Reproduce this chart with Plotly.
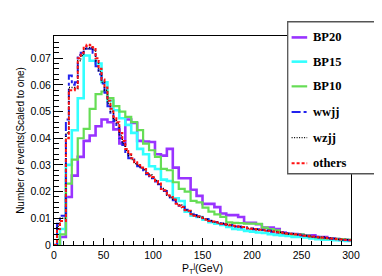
import numpy as np
import plotly.graph_objects as go

# ---------------- data ----------------
x_min, x_max = 0, 300
sig_bin_width = 6
bkg_bin_width = 3

bp20 = [0.000, 0.003, 0.018, 0.026, 0.033, 0.039, 0.041, 0.0445, 0.047, 0.046,
        0.0433, 0.038, 0.047, 0.0457, 0.039, 0.0388, 0.0386, 0.034, 0.0335, 0.036,
        0.029, 0.025, 0.025, 0.0207, 0.0184, 0.0154, 0.0154, 0.0142, 0.0118, 0.0112,
        0.0112, 0.0105, 0.0083, 0.0083, 0.0078, 0.0065, 0.0065, 0.0060, 0.0047, 0.0041,
        0.0041, 0.0038, 0.0036, 0.0036, 0.0030, 0.0030, 0.0025, 0.0022, 0.0020, 0.0018]

bp15 = [0.000, 0.006, 0.030, 0.043, 0.055, 0.071, 0.069, 0.068, 0.061, 0.054,
        0.0505, 0.0475, 0.045, 0.042, 0.036, 0.034, 0.0295, 0.0285, 0.0245, 0.024,
        0.0175, 0.0165, 0.0125, 0.011, 0.0105, 0.0095, 0.0085, 0.008, 0.0075, 0.0068,
        0.0060, 0.0058, 0.0053, 0.0050, 0.0047, 0.0045, 0.0040, 0.0038, 0.0036, 0.0034,
        0.0030, 0.0030, 0.0028, 0.0025, 0.0022, 0.0020, 0.0020, 0.0018, 0.0017, 0.0015]

bp10 = [0.000, 0.004, 0.023, 0.032, 0.040, 0.0435, 0.051, 0.0565, 0.0575, 0.055,
        0.052, 0.050, 0.048, 0.046, 0.043, 0.038, 0.0355, 0.033, 0.0285, 0.028,
        0.0235, 0.021, 0.020, 0.0165, 0.016, 0.014, 0.0125, 0.0115, 0.0105, 0.0085,
        0.0083, 0.0082, 0.0080, 0.0080, 0.0079, 0.0065, 0.0060, 0.0055, 0.0045, 0.0042,
        0.0040, 0.0040, 0.0035, 0.0030, 0.0028, 0.0025, 0.0025, 0.0023, 0.0022, 0.0020]

others = [0.000, 0.006, 0.009, 0.009, 0.040, 0.058, 0.058, 0.059, 0.070, 0.072,
          0.0745, 0.075, 0.0748, 0.074, 0.070, 0.066, 0.062, 0.059, 0.054, 0.051,
          0.048, 0.046, 0.042, 0.039, 0.036, 0.034, 0.0325, 0.031, 0.030, 0.029,
          0.0285, 0.027, 0.026, 0.0255, 0.024, 0.023, 0.021, 0.0205, 0.0185, 0.018,
          0.017, 0.0155, 0.0148, 0.0142, 0.013, 0.0128, 0.0115, 0.011, 0.0107, 0.0103,
          0.0101, 0.0095, 0.009, 0.0088, 0.0085, 0.0083, 0.008, 0.0078, 0.0076, 0.0074,
          0.0072, 0.0070, 0.0068, 0.0067, 0.0065, 0.0063, 0.0061, 0.0060, 0.0058, 0.0057,
          0.0055, 0.0054, 0.0053, 0.0051, 0.0050, 0.0048, 0.0047, 0.0045, 0.0043, 0.0042,
          0.0041, 0.0040, 0.0038, 0.0037, 0.0035, 0.0034, 0.0033, 0.0032, 0.0030, 0.0029,
          0.0028, 0.0027, 0.0025, 0.0024, 0.0023, 0.0022, 0.0021, 0.0020, 0.0019, 0.0018]

wwjj = [0.000, 0.008, 0.011, 0.011, 0.047, 0.0635, 0.060, 0.061, 0.0712, 0.072,
        0.0735, 0.074, 0.0735, 0.072, 0.067, 0.064, 0.0605, 0.057, 0.052, 0.049,
        0.0465, 0.044, 0.040, 0.0375, 0.034, 0.0325, 0.032, 0.0305, 0.0295, 0.0285,
        0.028, 0.0265, 0.0258, 0.025, 0.0238, 0.0228, 0.0212, 0.0202, 0.0188, 0.0178,
        0.0168, 0.0157, 0.0147, 0.0143, 0.0132, 0.0126, 0.0117, 0.0112, 0.0108, 0.0104,
        0.0100, 0.0097, 0.0091, 0.0089, 0.0086, 0.0082, 0.0081, 0.0079, 0.0075, 0.0075,
        0.0073, 0.0069, 0.0069, 0.0066, 0.0066, 0.0062, 0.0062, 0.0059, 0.0059, 0.0056,
        0.0056, 0.0053, 0.0054, 0.0050, 0.0051, 0.0047, 0.0048, 0.0044, 0.0044, 0.0041,
        0.0042, 0.0039, 0.0039, 0.0036, 0.0036, 0.0033, 0.0034, 0.0031, 0.0031, 0.0028,
        0.0029, 0.0026, 0.0026, 0.0023, 0.0024, 0.0021, 0.0022, 0.0019, 0.0020, 0.0018]

wzjj = [0.000, 0.007, 0.010, 0.010, 0.042, 0.059, 0.059, 0.0585, 0.069, 0.071,
        0.0735, 0.0735, 0.074, 0.073, 0.069, 0.065, 0.061, 0.058, 0.053, 0.050,
        0.047, 0.0455, 0.041, 0.038, 0.0355, 0.0335, 0.032, 0.0305, 0.0298, 0.0288,
        0.0282, 0.0268, 0.0262, 0.0252, 0.0242, 0.0228, 0.0212, 0.0203, 0.0187, 0.0178,
        0.0171, 0.0153, 0.0150, 0.0140, 0.0131, 0.0127, 0.0116, 0.0111, 0.0106, 0.0104,
        0.0100, 0.0096, 0.0091, 0.0087, 0.0086, 0.0082, 0.0081, 0.0077, 0.0077, 0.0073,
        0.0073, 0.0069, 0.0069, 0.0066, 0.0066, 0.0062, 0.0062, 0.0059, 0.0059, 0.0056,
        0.0056, 0.0053, 0.0054, 0.0050, 0.0051, 0.0047, 0.0048, 0.0044, 0.0044, 0.0041,
        0.0042, 0.0039, 0.0039, 0.0036, 0.0036, 0.0033, 0.0034, 0.0031, 0.0031, 0.0028,
        0.0029, 0.0026, 0.0026, 0.0023, 0.0024, 0.0021, 0.0022, 0.0019, 0.0020, 0.0018]

x_tick_vals = [0, 50, 100, 150, 200, 250, 300]
y_tick_vals = [0, 0.01, 0.02, 0.03, 0.04, 0.05, 0.06, 0.07]
y_top = 0.0783

series = [
    ("BP20", bp20, sig_bin_width, dict(color="#9933ff", width=2.6, dash="solid")),
    ("BP15", bp15, sig_bin_width, dict(color="#33ffff", width=2.6, dash="solid")),
    ("BP10", bp10, sig_bin_width, dict(color="#66dd55", width=2.2, dash="solid")),
    ("wwjj", wwjj, bkg_bin_width, dict(color="#2222ee", width=2.0, dash="dashdot")),
    ("wzjj", wzjj, bkg_bin_width, dict(color="#000000", width=1.4, dash="1px,1.5px")),
    ("others", others, bkg_bin_width, dict(color="#ff1111", width=2.0, dash="3px,2px")),
]

# page geometry (pixels) used for the drawn legend box
W, H = 382, 276
M_L, M_R, M_T, M_B = 38, 39, 28, 28
PW, PH = W - M_L - M_R, H - M_T - M_B


def px_x(px):
    return (px - M_L) / PW


def px_y(py):
    return (H - M_B - py) / PH


def step_xy(vals, w):
    edges = np.arange(x_min, x_max + w, w)[: len(vals) + 1]
    xs = list(edges)
    ys = list(vals) + [vals[-1]]
    return xs, ys


fig = go.Figure()
for name, vals, w, line in series:
    xs, ys = step_xy(vals, w)
    fig.add_trace(go.Scatter(x=xs, y=ys, mode="lines", name=name,
                             line=dict(shape="hv", **line), showlegend=False))

# legend drawn by hand (ROOT TLegend look)
shapes = [dict(type="rect", xref="paper", yref="paper",
               x0=px_x(278), x1=px_x(370), y0=px_y(173), y1=px_y(13),
               fillcolor="white", line=dict(color="#555", width=1.3), layer="above")]
annotations = []
legend_rows = [29.5, 55, 81, 108, 135, 162]
for (name, vals, w, line), py in zip(series, legend_rows):
    shapes.append(dict(type="line", xref="paper", yref="paper",
                       x0=px_x(282), x1=px_x(298), y0=px_y(py), y1=px_y(py),
                       line=dict(color=line["color"], width=line["width"],
                                 dash=line["dash"]), layer="above"))
    annotations.append(dict(text=name, xref="paper", yref="paper",
                            x=px_x(301.5), y=px_y(py), xanchor="left", yanchor="middle",
                            showarrow=False,
                            font=dict(family="Liberation Serif, Times New Roman, serif",
                                      size=12.5, color="#000", weight="bold")))

axis_font = dict(family="Liberation Sans, Arial, sans-serif", size=10.5, color="#000")

fig.update_layout(
    width=W, height=H,
    margin=dict(l=M_L, r=M_R, t=M_T, b=M_B),
    paper_bgcolor="white", plot_bgcolor="white",
    font=axis_font,
    showlegend=False,
    shapes=shapes,
    annotations=annotations,
    xaxis=dict(
        range=[x_min, x_max], tickvals=x_tick_vals, ticks="inside", ticklen=7,
        tickcolor="#000", showline=True, linecolor="#000", linewidth=1, mirror=True,
        showgrid=False, zeroline=False, tickfont=axis_font,
        minor=dict(ticks="inside", ticklen=4, dtick=10, tickcolor="#000", showgrid=False),
        title=dict(text="P<sub>T</sub><sup>j</sup>(GeV)", font=dict(size=10.5), standoff=4),
    ),
    yaxis=dict(
        range=[0, y_top], tickvals=y_tick_vals, ticks="inside", ticklen=9,
        tickcolor="#000", showline=True, linecolor="#000", linewidth=1, mirror=True,
        showgrid=False, zeroline=False, tickfont=axis_font,
        minor=dict(ticks="inside", ticklen=5, dtick=0.002, tickcolor="#000", showgrid=False),
        title=dict(text="Number of events(Scaled to one)", font=dict(size=10), standoff=3),
    ),
)

fig.write_html("out.html")
